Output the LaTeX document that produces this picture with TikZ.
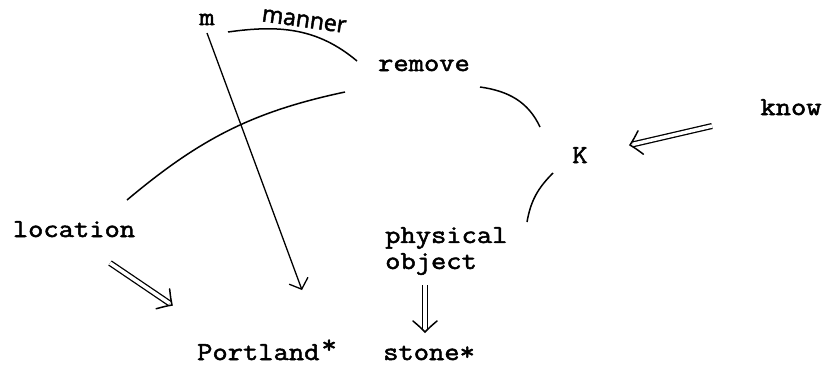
\documentclass[tikz,border=0pt]{standalone}
\usepackage{fontspec}
\usepackage{tikz}
\usetikzlibrary{arrows.meta,calc,decorations.markings}
\newfontfamily\typefont[FakeStretch=1.15,FakeBold=2]{Latin Modern Mono}
\newfontfamily\handfont[FakeBold=2]{Open Sans}

\begin{document}
\begin{tikzpicture}[
    x=1pt, y=1pt,
    word/.style={inner sep=0pt, font=\typefont\fontsize{25.8}{26}\selectfont},
    hand/.style={inner sep=0pt, font=\handfont\fontsize{23}{23}\selectfont},
    link/.style={line width=1.5pt},
    pointer/.style={line width=1.3pt, -{Straight Barb[length=9pt,width=20pt]}},
    implies/.style={double, line width=1.3pt, double distance=3.5pt, shorten >=3pt,
      postaction={decorate, decoration={markings, mark=at position 1 with {
        \draw[line width=1.5pt, shorten >=0pt, line cap=round] (-11,12) .. controls (-5,5) .. (0,0) .. controls (-5,-5) .. (-11,-12);}}}}
  ]
    \useasboundingbox (0,0) rectangle (824,368);
    % concepts
    \node[word, anchor=base] (m) at (207,343) {m};
    \node[word, anchor=base] (remove) at (424,297) {remove};
    \node[word, anchor=base] (know) at (791,253) {know};
    \node[word, anchor=base] (K) at (580,205) {K};
    \node[word, anchor=base] (location) at (74,131) {location};
    \node[word, anchor=north west, align=left] (phys) at (385,141) {physical\\object};
    \node[word, anchor=base west] (Portland) at (197,8) {Portland\kern2pt\raisebox{7pt}{*}};
    \node[word, anchor=base west] (stone) at (383,8) {stone*};
    \node[hand, rotate=-8] (manner) at (304,347) {manner};
    % links
    \draw[link] ($(m.base)+(21,-7)$) to[out=8,in=140] ($(remove.base)+(-67,10)$);
    \draw[link] ($(remove.base)+(-79,-21)$) to[out=192,in=40] ($(location.base)+(53,37)$);
    \draw[link] ($(remove.base)+(56,-16)$) to[out=-8,in=115] ($(K.base)+(-40,36)$);
    \draw[link] ($(K.base)+(-27,-10)$) to[out=225,in=80] ($(phys.north west)+(142,5)$);
    \draw[pointer] ($(m.base)+(0,-8)$) -- ($(Portland.base west)+(105,70)$);
    % double arrows
    \draw[implies] ($(location.base)+(36,-26)$) -- ($(Portland.base west)+(-25,55)$);
    \draw[implies] ($(phys.north west)+(40,-58)$) -- ($(stone.base west)+(42,28)$);
    \draw[implies] ($(know.base)+(-79,-11)$) -- ($(K.base)+(50,18)$);
  \end{tikzpicture}
\end{document}
